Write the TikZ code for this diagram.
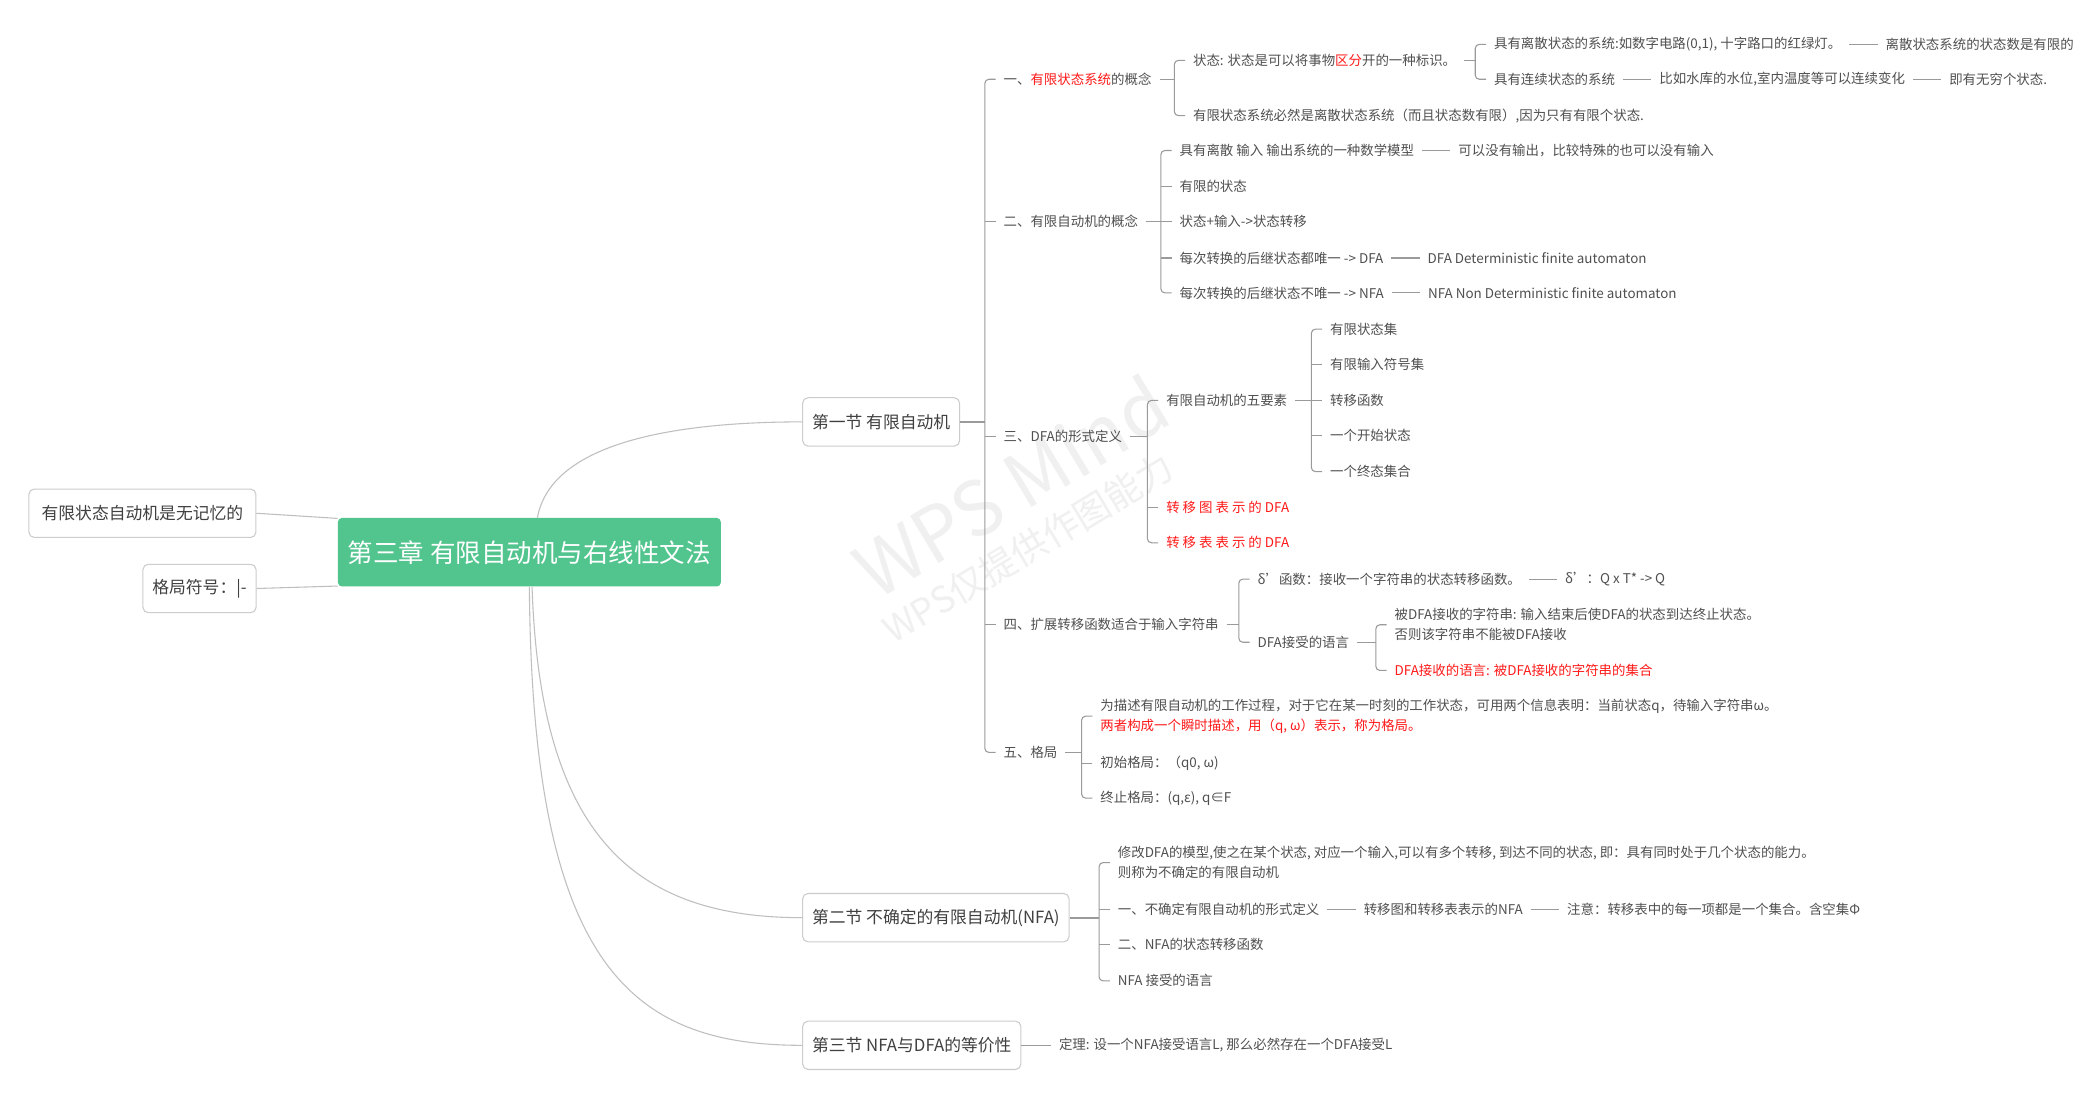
\documentclass[tikz,border=0pt]{standalone}
\usepackage{fontspec}
\setmainfont{Noto Sans CJK SC}
\usetikzlibrary{positioning,calc}

\definecolor{verde}{HTML}{52C48E}
\definecolor{texto}{HTML}{505050}
\definecolor{linha}{HTML}{9A9A9A}
\definecolor{vermelho}{HTML}{FF1A1A}

\tikzset{
	ramo/.style={anchor=west, inner sep=3pt, outer xsep=3pt, text=texto, align=left, font=\fontsize{10}{15}\selectfont},
	ramored/.style={ramo, text=vermelho},
	caixa/.style={draw=black!20, line width=0.8pt, fill=white, rounded corners=4pt, minimum height=36pt, inner xsep=7pt, text=black!75, font=\fontsize{12.5}{15}\selectfont},
	raiz/.style={fill=verde, rounded corners=3pt, minimum width=285pt, minimum height=51pt, inner xsep=4pt, text=white, font=\fontsize{19}{21}\selectfont},
	chave/.style={draw=linha, line width=0.8pt, rounded corners=3pt},
	liga/.style={draw=black!25, line width=0.8pt},
}

\begin{document}
\begin{tikzpicture}[x=1pt, y=-1pt]
	
	% Área da figura
	\useasboundingbox (0,0) rectangle (1560,816);
	\fill[white] (0,0) rectangle (1560,816);
	
	% Marca d'água
	\node[rotate=31, text=black!6, font=\fontsize{56}{56}\selectfont] (marca) at (752,362) {WPS Mind};
	\node[rotate=31, text=black!6, font=\fontsize{27}{27}\selectfont] (marcab) at (765,408) {WPS仅提供作图能力};
	
	% Tópico central e tópicos laterais
	\node[raiz] (raiz) at (394,411) {第三章 有限自动机与右线性文法};
	\node[caixa, minimum width=169pt] (memoria) at (106,382) {有限状态自动机是无记忆的};
	\node[caixa, anchor=east] (simbolo) at (191,438) {格局符号：|-};
	
	% Seções
	\node[caixa, anchor=west] (sec1) at (597,314) {第一节 有限自动机};
	\node[caixa, anchor=west] (sec2) at (597,683) {第二节 不确定的有限自动机(NFA)};
	\node[caixa, anchor=west] (sec3) at (597,778) {第三节 NFA与DFA的等价性};
	
	% Ligações da raiz
	\draw[liga] (memoria.east) -- (raiz.170);
	\draw[liga] (simbolo.east) -- (raiz.190);
	\draw[liga] ($(raiz.north)+(6,0)$) .. controls (410,330) and (500,314) .. (sec1.west);
	\draw[liga] ($(raiz.south)+(2,0)$) .. controls (402,620) and (470,683) .. (sec2.west);
	\draw[liga] (raiz.south) .. controls (396,720) and (470,778) .. (sec3.west);
	
	% Seção 1: itens
	\node[ramo] (s1a) at (741,59) {一、\textcolor{vermelho}{有限状态系统}的概念};
	\node[ramo] (s1b) at (741,165) {二、有限自动机的概念};
	\node[ramo] (s1c) at (741,325) {三、DFA的形式定义};
	\node[ramo] (s1d) at (741,465) {四、扩展转移函数适合于输入字符串};
	\node[ramo] (s1e) at (741,560) {五、格局};
	\draw[chave, line width=1.6pt, rounded corners=0pt] (sec1.east) -- ($(sec1.east -| s1a.west)+(-8,0)$);
	\draw[chave] (s1a.west) -- ++(-8,0) |- (s1e.west);
	\draw[chave] (s1b.west) -- ++(-8,0) (s1c.west) -- ++(-8,0) (s1d.west) -- ++(-8,0);
	
	% Um: sistema de estados finitos
	\node[ramo] (a1) at (882,45) {状态: 状态是可以将事物\textcolor{vermelho}{区分}开的一种标识。};
	\node[ramo] (a2) at (882,86) {有限状态系统必然是离散状态系统（而且状态数有限）,因为只有有限个状态.};
	\draw[chave] (s1a.east) -- ($(s1a.east -| a1.west)+(-8,0)$);
	\draw[chave] (a1.west) -- ++(-8,0) |- (a2.west);
	
	\node[ramo] (a11) at (1106,33) {具有离散状态的系统:如数字电路(0,1), 十字路口的红绿灯。};
	\node[ramo, right=21pt of a11] (a11x) {离散状态系统的状态数是有限的};
	\node[ramo] (a12) at (1106,59) {具有连续状态的系统};
	\node[ramo, right=21pt of a12] (a12x) {比如水库的水位,室内温度等可以连续变化};
	\node[ramo, right=21pt of a12x] (a12y) {即有无穷个状态.};
	\draw[chave] (a1.east) -- ($(a1.east -| a11.west)+(-8,0)$);
	\draw[chave] (a11.west) -- ++(-8,0) |- (a12.west);
	\draw[chave] (a11.east) -- (a11x.west);
	\draw[chave] (a12.east) -- (a12x.west);
	\draw[chave] (a12x.east) -- (a12y.west);
	
	% Dois: conceito de autômato finito
	\node[ramo] (b1) at (872,112) {具有离散 输入 输出系统的一种数学模型};
	\node[ramo, right=21pt of b1] (b1x) {可以没有输出，比较特殊的也可以没有输入};
	\node[ramo] (b2) at (872,139) {有限的状态};
	\node[ramo] (b3) at (872,165) {状态+输入->状态转移};
	\node[ramo] (b4) at (872,192) {每次转换的后继状态都唯一 -> DFA};
	\node[ramo, right=21pt of b4] (b4x) {DFA Deterministic finite automaton};
	\node[ramo] (b5) at (872,218) {每次转换的后继状态不唯一 -> NFA};
	\node[ramo, right=21pt of b5] (b5x) {NFA Non Deterministic finite automaton};
	\draw[chave] (s1b.east) -- ($(s1b.east -| b1.west)+(-8,0)$);
	\draw[chave] (b1.west) -- ++(-8,0) |- (b5.west);
	\draw[chave] (b2.west) -- ++(-8,0) (b3.west) -- ++(-8,0) (b4.west) -- ++(-8,0);
	\draw[chave] (b1.east) -- (b1x.west);
	\draw[chave] (b4.east) -- (b4x.west);
	\draw[chave] (b5.east) -- (b5x.west);
	
	% Três: definição formal do DFA
	\node[ramo] (c1) at (862,298) {有限自动机的五要素};
	\node[ramored] (c2) at (862,378) {转 移 图 表 示 的 DFA};
	\node[ramored] (c3) at (862,404) {转 移 表 表 示 的 DFA};
	\draw[chave] (s1c.east) -- ($(s1c.east -| c1.west)+(-8,0)$);
	\draw[chave] (c1.west) -- ++(-8,0) |- (c3.west);
	\draw[chave] (c2.west) -- ++(-8,0);
	
	\node[ramo] (c11) at (984,245) {有限状态集};
	\node[ramo] (c12) at (984,271) {有限输入符号集};
	\node[ramo] (c13) at (984,298) {转移函数};
	\node[ramo] (c14) at (984,324) {一个开始状态};
	\node[ramo] (c15) at (984,351) {一个终态集合};
	\draw[chave] (c1.east) -- ($(c1.east -| c11.west)+(-8,0)$);
	\draw[chave] (c11.west) -- ++(-8,0) |- (c15.west);
	\draw[chave] (c12.west) -- ++(-8,0) (c13.west) -- ++(-8,0) (c14.west) -- ++(-8,0);
	
	% Quatro: função de transição estendida
	\node[ramo] (d1) at (930,431) {δ’函数：接收一个字符串的状态转移函数。};
	\node[ramo, right=21pt of d1] (d1x) {δ’：Q x T* -> Q};
	\node[ramo] (d2) at (930,478) {DFA接受的语言};
	\draw[chave] (s1d.east) -- ($(s1d.east -| d1.west)+(-8,0)$);
	\draw[chave] (d1.west) -- ++(-8,0) |- (d2.west);
	\draw[chave] (d1.east) -- (d1x.west);
	
	\node[ramo] (d21) at (1032,465) {被DFA接收的字符串: 输入结束后使DFA的状态到达终止状态。\\否则该字符串不能被DFA接收};
	\node[ramored] (d22) at (1032,499) {DFA接收的语言: 被DFA接收的字符串的集合};
	\draw[chave] (d2.east) -- ($(d2.east -| d21.west)+(-8,0)$);
	\draw[chave] (d21.west) -- ++(-8,0) |- (d22.west);
	
	% Cinco: configuração
	\node[ramo] (e1) at (813,533) {为描述有限自动机的工作过程，对于它在某一时刻的工作状态，可用两个信息表明：当前状态q，待输入字符串ω。\\\textcolor{vermelho}{两者构成一个瞬时描述，用（q, ω）表示，称为格局。}};
	\node[ramo] (e2) at (813,568) {初始格局：（q0, ω)};
	\node[ramo] (e3) at (813,594) {终止格局：(q,ε), q∈F};
	\draw[chave] (s1e.east) -- ($(s1e.east -| e1.west)+(-8,0)$);
	\draw[chave] (e1.west) -- ++(-8,0) |- (e3.west);
	\draw[chave] (e2.west) -- ++(-8,0);
	
	% Seção 2
	\node[ramo] (f1) at (826,642) {修改DFA的模型,使之在某个状态, 对应一个输入,可以有多个转移, 到达不同的状态, 即：具有同时处于几个状态的能力。\\则称为不确定的有限自动机};
	\node[ramo] (f2) at (826,677) {一、不确定有限自动机的形式定义};
	\node[ramo, right=21pt of f2] (f2x) {转移图和转移表表示的NFA};
	\node[ramo, right=21pt of f2x] (f2y) {注意：转移表中的每一项都是一个集合。含空集Φ};
	\node[ramo] (f3) at (826,703) {二、NFA的状态转移函数};
	\node[ramo] (f4) at (826,730) {NFA 接受的语言};
	\draw[chave, line width=1.6pt, rounded corners=0pt] (sec2.east) -- ($(sec2.east -| f1.west)+(-8,0)$);
	\draw[chave] (f1.west) -- ++(-8,0) |- (f4.west);
	\draw[chave] (f2.west) -- ++(-8,0) (f3.west) -- ++(-8,0);
	\draw[chave] (f2.east) -- (f2x.west);
	\draw[chave] (f2x.east) -- (f2y.west);
	
	% Seção 3
	\node[ramo, right=22pt of sec3] (g1) {定理: 设一个NFA接受语言L, 那么必然存在一个DFA接受L};
	\draw[chave] (sec3.east) -- (g1.west);
	
\end{tikzpicture}
\end{document}
